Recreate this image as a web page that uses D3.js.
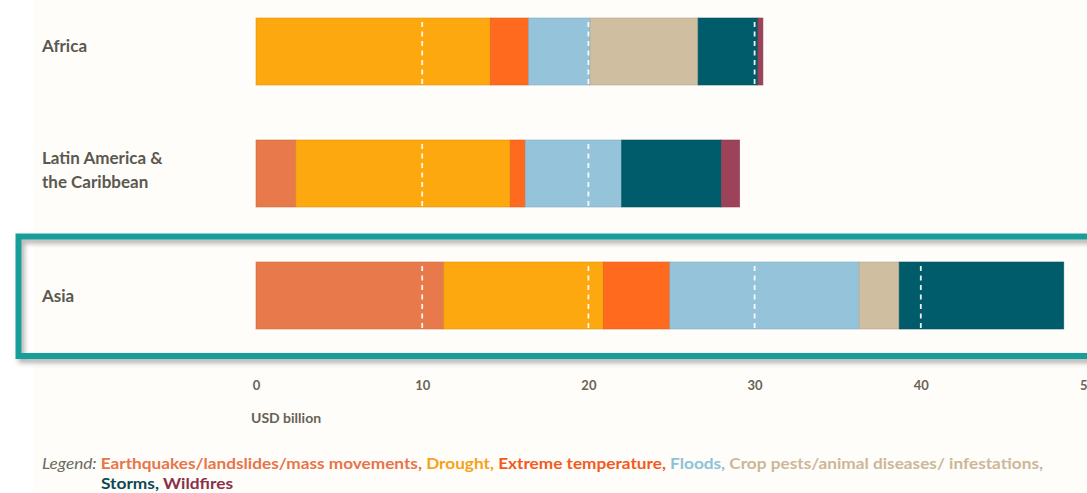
<!DOCTYPE html>
<html>
<head>
<meta charset="utf-8">
<script src="https://cdn.jsdelivr.net/npm/d3@7"></script>
<style>
  html, body { margin: 0; padding: 0; background: #ffffff; }
  svg { display: block; }
  text { font-family: Lato, "Open Sans", "Noto Sans", sans-serif; }
</style>
</head>
<body>
<svg id="chart" width="1087" height="493"></svg>
<script>
// Economic losses by hazard type and region (USD billion)
const regions = ["Africa", "Latin America & the Caribbean", "Asia"];
const regionLines = [["Africa"], ["Latin America &", "the Caribbean"], ["Asia"]];

const hazards = [
  "Earthquakes/landslides/mass movements",
  "Drought",
  "Extreme temperature",
  "Floods",
  "Crop pests/animal diseases/ infestations",
  "Storms",
  "Wildfires"
];
const hazardKeys = ["earthquakes", "drought", "extremeTemp", "floods", "cropPests", "storms", "wildfires"];

// one value per region, in the order of `regions`
const earthquakes = [0, 2.4, 11.3];
const drought     = [14.1, 12.9, 9.6];
const extremeTemp = [2.3, 0.9, 4.0];
const floods      = [3.7, 5.8, 11.4];
const cropPests   = [6.5, 0, 2.4];
const storms      = [3.6, 6.0, 9.9];
const wildfires   = [0.3, 1.1, 0];

const xTicks = [0, 10, 20, 30, 40, 50];
const axisTitle = "USD billion";

const barColors  = ["#e8794b", "#fda80f", "#ff6a1f", "#94c3da", "#cfbea0", "#005c6a", "#9c4259"];
const textColors = ["#e8744a", "#f7a21a", "#f25a1d", "#8dc2d8", "#ccb797", "#0b4853", "#8a3049"];

const seriesByKey = { earthquakes, drought, extremeTemp, floods, cropPests, storms, wildfires };
const table = regions.map((r, i) => {
  const row = { region: r };
  hazardKeys.forEach(k => row[k] = seriesByKey[k][i]);
  return row;
});
const stacked = d3.stack().keys(hazardKeys)(table);
const totals = table.map(row => d3.sum(hazardKeys, k => row[k]));

const svg = d3.select("#chart");
const W = 1087, H = 493;

// page background: white margin strip, cream panel
svg.append("rect").attr("x", 0).attr("y", 0).attr("width", W).attr("height", H).attr("fill", "#ffffff");
svg.append("rect").attr("x", 33).attr("y", 0).attr("width", W - 33).attr("height", H).attr("fill", "#fefdf9");

const x = d3.scaleLinear().domain([0, 50]).range([256, 256 + 50 * 16.62]);
const y = d3.scalePoint().domain(regions).range([51.5, 295.5]);
const barH = 67;

// highlight frame around the Asia row
const defs = svg.append("defs");
const f = defs.append("filter").attr("id", "frameShadow")
  .attr("x", "-5%").attr("y", "-20%").attr("width", "110%").attr("height", "140%");
f.append("feDropShadow").attr("dx", 3).attr("dy", 4).attr("stdDeviation", 2.5)
  .attr("flood-color", "#555").attr("flood-opacity", 0.45);

svg.append("rect")
  .attr("x", 18.5).attr("y", 236.5)
  .attr("width", 1100).attr("height", 119.5)
  .attr("fill", "none")
  .attr("stroke", "#179f9a")
  .attr("stroke-width", 6)
  .attr("filter", "url(#frameShadow)");

// stacked bars
const layers = svg.append("g").selectAll("g")
  .data(stacked)
  .join("g")
  .attr("fill", (d, i) => barColors[i]);

layers.selectAll("rect")
  .data((d, i) => d.map(v => ({ v, i })))
  .join("rect")
  .filter(d => d.v[1] - d.v[0] > 0)
  .attr("x", d => x(d.v[0]))
  .attr("y", d => y(d.v.data.region) - barH / 2)
  .attr("width", d => x(d.v[1]) - x(d.v[0]))
  .attr("height", barH)
  .attr("stroke", d => d3.color(barColors[d.i]).darker(0.35))
  .attr("stroke-width", 0.8)
  .attr("stroke-opacity", 0.7);

// dashed gridlines, shown across each bar
const grid = svg.append("g");
regions.forEach((r, i) => {
  xTicks.filter(t => t > 0 && t < totals[i]).forEach(t => {
    grid.append("line")
      .attr("x1", x(t)).attr("x2", x(t))
      .attr("y1", y(r) - barH / 2 + 4).attr("y2", y(r) + barH / 2)
      .attr("stroke", "#ffffff")
      .attr("stroke-width", 1.8)
      .attr("stroke-dasharray", "5,4.5")
      .attr("opacity", 0.92);
  });
});

// region labels
const labelNudge = [-6, -4, 0];
const labels = svg.append("g");
regionLines.forEach((lines, i) => {
  const cy = y(regions[i]) + labelNudge[i];
  const t = labels.append("text")
    .attr("x", 42)
    .attr("fill", "#5b5850")
    .attr("font-size", 17)
    .attr("font-weight", 700);
  lines.forEach((ln, j) => {
    t.append("tspan")
      .attr("x", 42)
      .attr("y", cy + 6 + (j - (lines.length - 1) / 2) * 24)
      .text(ln);
  });
});

// x axis
const axis = svg.append("g")
  .attr("transform", "translate(0,378)")
  .call(d3.axisBottom(x).tickValues(xTicks).tickSize(0).tickPadding(0).tickFormat(d3.format("d")));
axis.select(".domain").remove();
axis.selectAll("text")
  .attr("dy", "0.9em")
  .attr("fill", "#6a6256")
  .attr("font-size", 13)
  .attr("font-weight", 700)
  .style("font-family", "Lato, sans-serif");

svg.append("text")
  .attr("x", 251).attr("y", 423)
  .attr("fill", "#676156")
  .attr("font-size", 14)
  .attr("font-weight", 700)
  .text(axisTitle);

// legend
const line1 = svg.append("text")
  .attr("x", 42).attr("y", 469)
  .attr("font-size", 15)
  .attr("textLength", 1001)
  .attr("lengthAdjust", "spacingAndGlyphs");
line1.append("tspan")
  .attr("fill", "#6b6a60")
  .attr("font-style", "italic")
  .text("Legend: ");
hazards.slice(0, 5).forEach((h, i) => {
  line1.append("tspan")
    .attr("fill", textColors[i])
    .attr("font-weight", 700)
    .text(h + ", ");
});

const line2 = svg.append("text")
  .attr("x", 101).attr("y", 489)
  .attr("font-size", 15)
  .attr("textLength", 132)
  .attr("lengthAdjust", "spacingAndGlyphs");
line2.append("tspan").attr("fill", textColors[5]).attr("font-weight", 700).text(hazards[5] + ", ");
line2.append("tspan").attr("fill", textColors[6]).attr("font-weight", 700).text(hazards[6]);
</script>
</body>
</html>
